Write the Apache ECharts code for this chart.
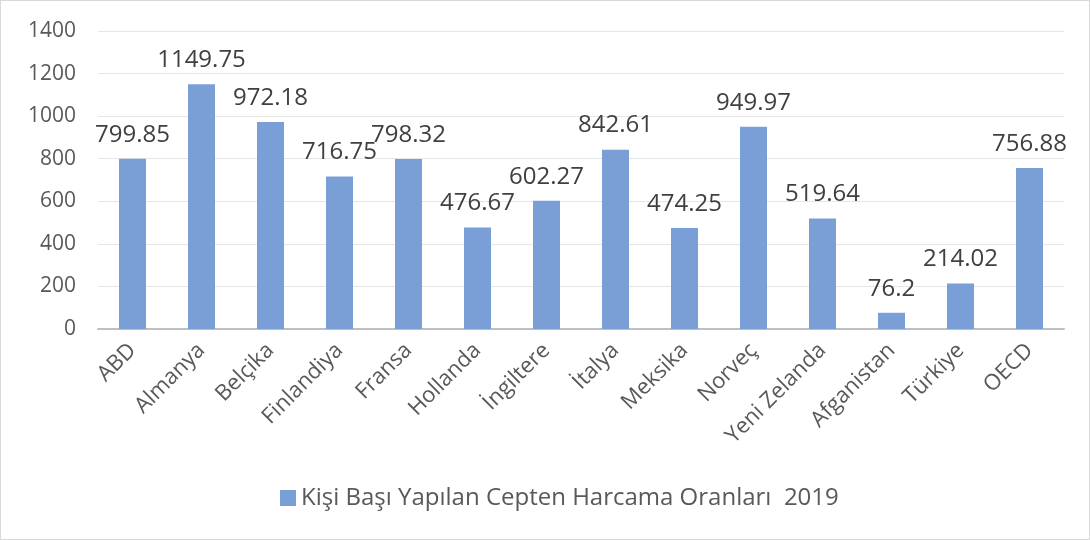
<!DOCTYPE html>
<html>
<head>
<meta charset="utf-8">
<script src="https://cdn.jsdelivr.net/npm/echarts@6/dist/echarts.min.js"></script>
<style>
  html, body { margin: 0; padding: 0; background: #fff; }
  #chart { width: 1088px; height: 538px; border: 1px solid #d9d9d9; }
</style>
</head>
<body>
<div id="chart"></div>
<script>
(function(){
    'use strict';
    var countries = ['ABD','Almanya','Belçika','Finlandiya','Fransa','Hollanda','İngiltere','İtalya','Meksika','Norveç','Yeni Zelanda','Afganistan','Türkiye','OECD'];
    var spending = [799.85,1149.75,972.18,716.75,798.32,476.67,602.27,842.61,474.25,949.97,519.64,76.2,214.02,756.88];
    var seriesName = 'Kişi Başı Yapılan Cepten Harcama Oranları  2019';

    var font = '"Open Sans", sans-serif';
    var myChart = echarts.init(document.getElementById('chart'));
    var option = {
        animation: false,
        textStyle: { fontFamily: font },
        grid: { left: 97, right: 25, top: 30, bottom: 210 },
        legend: {
            bottom: 24,
            left: 274,
            itemWidth: 16, itemHeight: 16, itemGap: 6,
            icon: 'rect',
            textStyle: { fontSize: 24, color: '#595959', fontFamily: font },
            data: [seriesName]
        },
        xAxis: {
            type: 'category',
            data: countries,
            axisLine: { lineStyle: { color: '#bfbfbf', width: 2 } },
            axisTick: { show: false },
            axisLabel: { rotate: 45, fontSize: 22, color: '#595959', margin: 18, interval: 0 }
        },
        yAxis: {
            type: 'value',
            min: 0, max: 1400, interval: 200,
            axisLine: { show: false },
            axisTick: { show: false },
            axisLabel: { fontSize: 21, color: '#595959', margin: 22, formatter: function(v){ return String(v); } },
            splitLine: { lineStyle: { color: '#e6e6e6', width: 1 } }
        },
        series: [{
            name: seriesName,
            type: 'bar',
            data: spending,
            barWidth: 27,
            itemStyle: { color: '#7a9ed6' },
            label: {
                show: true, position: 'top', distance: 12,
                fontSize: 24, color: '#404040', fontFamily: font
            }
        }]
    };
    myChart.setOption(option);
})();
</script>
</body>
</html>
